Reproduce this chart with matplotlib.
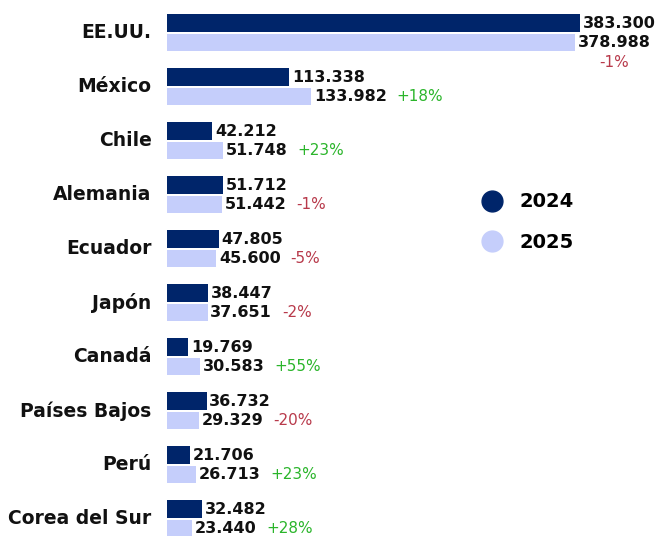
import matplotlib.pyplot as plt
from matplotlib.lines import Line2D

# data
countries = ["EE.UU.", "México", "Chile", "Alemania", "Ecuador", "Japón",
             "Canadá", "Países Bajos", "Perú", "Corea del Sur"]
values_2024 = [383300, 113338, 42212, 51712, 47805, 38447, 19769, 36732, 21706, 32482]
values_2025 = [378988, 133982, 51748, 51442, 45600, 37651, 30583, 29329, 26713, 23440]
changes = ["-1%", "+18%", "+23%", "-1%", "-5%", "-2%", "+55%", "-20%", "+23%", "+28%"]

COLOR_2024 = "#00256a"
COLOR_2025 = "#c5cefb"
GREEN = "#2bb52b"
RED = "#b83a4b"

plt.rcParams["font.family"] = ["DejaVu Sans"]


def fmt(v):
    return f"{v:,}".replace(",", ".")


fig = plt.figure(figsize=(6.6, 5.36), dpi=100)
ax = fig.add_axes([167 / 660, 0, 493 / 660, 1])

rows = list(range(len(countries)))
bar_h = 0.32
off_2024 = -0.185
off_2025 = 0.17

ax.barh([r + off_2024 for r in rows], values_2024, height=bar_h, color=COLOR_2024)
ax.barh([r + off_2025 for r in rows], values_2025, height=bar_h, color=COLOR_2025)

ax.set_xlim(0, 457500)
ax.set_ylim(9.315, -0.611)
ax.axis("off")

for r, name in enumerate(countries):
    ax.annotate(name, xy=(0, r), xytext=(-11, 0), textcoords="offset points",
                ha="right", va="center", fontsize=13.5, fontweight="bold", color="#111111")

    ax.annotate(fmt(values_2024[r]), xy=(values_2024[r], r + off_2024), xytext=(2, 0),
                textcoords="offset points", ha="left", va="center",
                fontsize=11.5, fontweight="bold", color="#111111")
    t25 = ax.annotate(fmt(values_2025[r]), xy=(values_2025[r], r + off_2025), xytext=(2, 0),
                      textcoords="offset points", ha="left", va="center",
                      fontsize=11.5, fontweight="bold", color="#111111")

    col = GREEN if changes[r].startswith("+") else RED
    if r == 0:
        # no room on the right for the top row, so it sits under the value
        ax.annotate(changes[r], xy=(0.5, 0), xycoords=t25, xytext=(0, -4),
                    textcoords="offset points", ha="center", va="top",
                    fontsize=11, color=col)
    else:
        ax.annotate(changes[r], xy=(1, 0.5), xycoords=t25, xytext=(7, 0),
                    textcoords="offset points", ha="left", va="center",
                    fontsize=11, color=col)

handles = [
    Line2D([], [], marker="o", linestyle="none", markersize=15,
           markerfacecolor=COLOR_2024, markeredgecolor=COLOR_2024),
    Line2D([], [], marker="o", linestyle="none", markersize=15,
           markerfacecolor=COLOR_2025, markeredgecolor=COLOR_2025),
]
fig.legend(handles, ["2024", "2025"], loc="center left",
           bbox_to_anchor=(463 / 660, 1 - 222 / 536), frameon=False,
           prop={"size": 14, "weight": "bold"}, labelspacing=1.1,
           handletextpad=0.8, handlelength=1.2)

fig.savefig("out.png", dpi=100)
